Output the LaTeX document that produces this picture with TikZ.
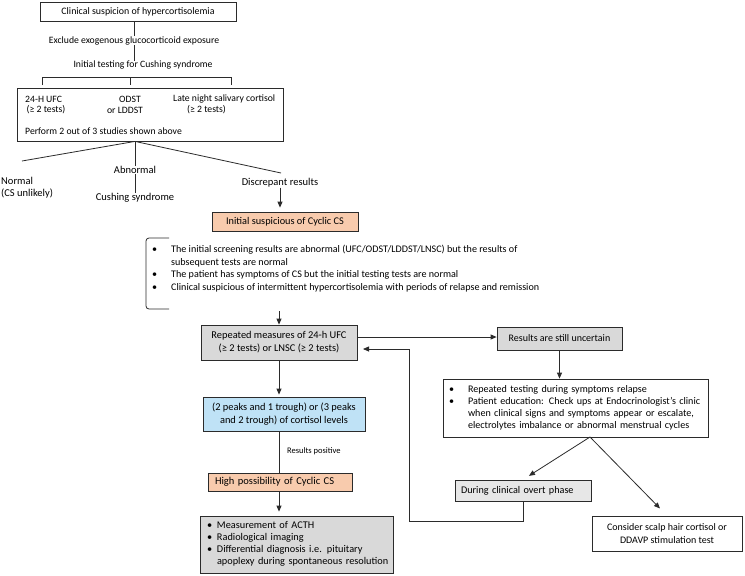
\documentclass[tikz,border=0pt]{standalone}
\usepackage{fontspec}
\setmainfont{Carlito}
\usetikzlibrary{arrows.meta,calc}
\definecolor{salmon}{HTML}{F8CBAD}
\definecolor{lgray}{HTML}{D9D9D9}
\definecolor{vlgray}{HTML}{E7E7E7}
\definecolor{lblue}{HTML}{BFE2F6}
\definecolor{edge}{HTML}{2B2B2B}
\newcommand\myfs[2]{\fontsize{#1}{#2}\selectfont}
\begin{document}
\begin{tikzpicture}[x=1pt,y=-1pt,
  box/.style={draw=edge, line width=0.8pt, inner sep=0pt, align=center},
  txt/.style={inner sep=0pt, font=\myfs{9.7}{12}},
  ln/.style={draw=edge, line width=0.8pt},
  arr/.style={ln, -{Triangle[width=5pt,length=6pt]}}
]
\useasboundingbox (0,0) rectangle (745,576);
\fill[white] (0,0) rectangle (745,576);

% top
\node[box, minimum width=196pt, minimum height=19pt, font=\myfs{9.9}{12}] (b1) at (138,11.5) {Clinical suspicion of hypercortisolemia};
\node[txt] (excl) at (134,40.5) {Exclude exogenous glucocorticoid exposure};
\node[txt] (init) at (143,65) {Initial testing for Cushing syndrome};
\draw[ln] (excl.north |- b1.south) -- (excl.north);
\draw[ln] (excl.south) -- (excl.south |- init.north);
\draw[ln] (42,85) -- (42,77.5) -- (231,77.5) -- (231,85) (130,77.5) -- (130,85);

\node[box, minimum width=266pt, minimum height=53pt] (b2) at (150,114.5) {};
\node[txt, anchor=west] (t1) at (25,99) {24-H UFC};
\node[txt, anchor=west] (t2) at (26.5,110) {(≥ 2 tests)};
\node[txt] (t3) at (130,99) {ODST};
\node[txt] (t4) at (125,110) {or LDDST};
\node[txt, anchor=west] (t5) at (173,99) {Late night salivary cortisol};
\node[txt, anchor=west] (t6) at (187,110) {(≥ 2 tests)};
\node[txt, anchor=west] (t7) at (25,131) {Perform 2 out of 3 studies shown above};

% outcomes
\node[txt, font=\myfs{10.5}{12}] (abn) at (135,170) {Abnormal};
\node[txt, font=\myfs{10.5}{12}] (cs) at (135,198) {Cushing syndrome};
\node[txt, anchor=west, font=\myfs{10.5}{12}] (nor) at (1,181) {Normal};
\node[txt, anchor=west, font=\myfs{10.5}{12}] (csu) at (1,193.5) {(CS unlikely)};
\node[txt, font=\myfs{10.5}{12}] (dis) at (280,183) {Discrepant results};
\coordinate (fan) at (abn.north |- b2.south);
\draw[ln] (fan) -- (abn.north);
\draw[ln] (fan) -- (22,161);
\draw[ln] (fan) -- (281,173);
\draw[ln] (abn.south) -- (cs.north);

\node[box, fill=salmon, minimum width=146pt, minimum height=19pt, font=\myfs{10.3}{12}] (sal1) at (285,221.5) {Initial suspicious of Cyclic CS};
\draw[arr, shorten >=4pt] (dis.south) -- (dis.south |- sal1.north);

% bracket list
\draw[ln, rounded corners=3pt] (169,238) -- (146,238) -- (146,309) -- (169,309);
\node[txt, anchor=north west, align=left, font=\myfs{10.1}{12.4}] (bl) at (152,244) {%
\begin{tabular}{@{}p{19pt}@{}l@{}}
\textbullet & The initial screening results are abnormal (UFC/ODST/LDDST/LNSC) but the results of\\
 & subsequent tests are normal\\
\textbullet & The patient has symptoms of CS but the initial testing tests are normal\\
\textbullet & Clinical suspicious of intermittent hypercortisolemia with periods of relapse and remission
\end{tabular}};

\node[box, fill=lgray, minimum width=156pt, minimum height=35pt, font=\myfs{10.4}{13}] (rm) at (279,342.5) {Repeated measures of 24-h UFC\\(≥ 2 tests) or LNSC (≥ 2 tests)};
\coordinate (la) at (rm.north |- 0,311);
\draw[arr] (la) -- (rm.north);

\node[box, fill=lgray, minimum width=125pt, minimum height=23pt, font=\myfs{10}{12}] (res) at (559.5,338.5) {Results are still uncertain};
\draw[arr] (rm.east |- 0,337) -- (res.west |- 0,337);

\node[box, minimum width=265pt, minimum height=58pt, text width=253pt, inner xsep=6pt, align=left, font=\myfs{10.1}{11.8}] (rt) at (575.5,408) {%
\begin{tabular}{@{}p{19pt}@{}l@{}}
\textbullet & Repeated testing during symptoms relapse\\
\textbullet & Patient education: Check ups at Endocrinologist’s clinic\\
 & when clinical signs and symptoms appear or escalate,\\
 & electrolytes imbalance or abnormal menstrual cycles
\end{tabular}};
\draw[arr] (res.south) -- (res.south |- rt.north);

\node[box, fill=vlgray, minimum width=136pt, minimum height=21pt, text width=124pt, inner xsep=6pt, align=left, font=\myfs{10.2}{12}] (ov) at (523,490.5) {During clinical overt phase};
\node[box, minimum width=150pt, minimum height=35pt, font=\myfs{10}{13}] (con) at (667,533.5) {Consider scalp hair cortisol or\\DDAVP stimulation test};
\coordinate (apex) at (590,437);
\draw[arr, shorten >=7pt] (apex) -- (ov.north);
\draw[arr, shorten >=10pt] (apex) -- (con.north);
\draw[arr] (ov.south) -- (523,521) -- (409,521) -- (409,349) -- (363,349);

% left column lower
\node[box, fill=lblue, minimum width=162pt, minimum height=34pt, font=\myfs{10.4}{13}] (pk) at (284,414) {(2 peaks and 1 trough) or (3 peaks\\and 2 trough) of cortisol levels};
\draw[arr, shorten >=2pt] (rm.south) -- (rm.south |- pk.north);

\node[box, fill=salmon, minimum width=144pt, minimum height=18pt, text width=130pt, inner xsep=7pt, align=left, font=\myfs{10.5}{12}] (sal2) at (280,482) {High possibility of Cyclic CS};
\draw[ln] (rm.south |- pk.south) -- (rm.south |- sal2.north);
\node[txt, anchor=west, font=\myfs{8.5}{10}] (rp) at (287,451) {Results positive};

\node[box, fill=lgray, minimum width=193pt, minimum height=57pt, text width=179pt, inner xsep=7pt, align=left, font=\myfs{10.3}{12}] (fin) at (296.5,544.5) {%
\begin{tabular}{@{}p{10pt}@{}l@{}}
\textbullet & Measurement of ACTH\\
\textbullet & Radiological imaging\\
\textbullet & Differential diagnosis i.e. pituitary\\
 & apoplexy during spontaneous resolution
\end{tabular}};
\draw[arr, shorten >=4pt] (rm.south |- sal2.south) -- (rm.south |- fin.north);
\end{tikzpicture}
\end{document}
